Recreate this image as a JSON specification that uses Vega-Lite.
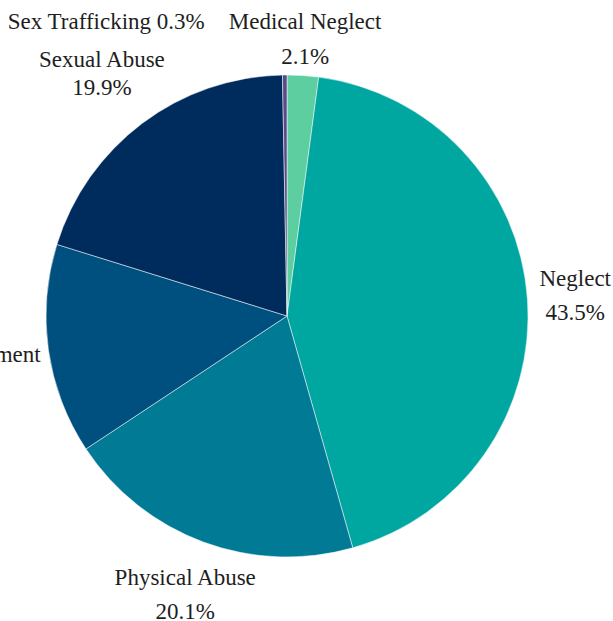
{
  "$schema": "https://vega.github.io/schema/vega-lite/v6.json",
  "autosize": "none",
  "padding": {"left": 0, "top": 11, "right": 39, "bottom": 0},
  "width": 574,
  "height": 610,
  "background": "white",
  "data": {
    "values": [
      {"category": "Medical Neglect", "pct": 2.1, "order": 1},
      {"category": "Neglect", "pct": 43.5, "order": 2},
      {"category": "Physical Abuse", "pct": 20.1, "order": 3},
      {"category": "Emotional Maltreatment", "pct": 14.1, "order": 4},
      {"category": "Sexual Abuse", "pct": 19.9, "order": 5},
      {"category": "Sex Trafficking", "pct": 0.3, "order": 6}
    ]
  },
  "transform": [
    {"stack": "pct", "groupby": [], "sort": [{"field": "order", "order": "ascending"}], "as": ["t0", "t1"]},
    {"calculate": "(datum.t0 + datum.t1) / 2", "as": "tmid"},
    {"calculate": "datum.category + '\\n' + format(datum.pct, '.1f') + '%'", "as": "label"}
  ],
  "layer": [
    {
      "mark": {"type": "arc", "outerRadius": 241, "stroke": "white", "strokeWidth": 0.5},
      "encoding": {
        "theta": {"field": "t0", "type": "quantitative", "scale": {"domain": [0, 100]}},
        "theta2": {"field": "t1"},
        "color": {
          "field": "category",
          "type": "nominal",
          "legend": null,
          "scale": {
            "domain": ["Medical Neglect", "Neglect", "Physical Abuse", "Emotional Maltreatment", "Sexual Abuse", "Sex Trafficking"],
            "range": ["#5ccea0", "#00a6a0", "#007a95", "#00507f", "#002b5d", "#5a4a8c"]
          }
        }
      }
    },
    {
      "transform": [{"filter": "datum.category == 'Medical Neglect'"}],
      "mark": {"type": "text", "radius": 290, "dx": -1, "dy": -5, "lineHeight": 35},
      "encoding": {
        "theta": {"field": "tmid", "type": "quantitative", "scale": {"domain": [0, 100]}},
        "text": {"field": "label"}
      }
    },
    {
      "transform": [{"filter": "datum.category == 'Neglect'"}],
      "mark": {"type": "text", "radius": 290, "dx": -1, "dy": -16, "lineHeight": 34},
      "encoding": {
        "theta": {"field": "tmid", "type": "quantitative", "scale": {"domain": [0, 100]}},
        "text": {"field": "label"}
      }
    },
    {
      "transform": [{"filter": "datum.category == 'Physical Abuse'"}],
      "mark": {"type": "text", "radius": 290, "dx": -1, "dy": -10, "lineHeight": 34},
      "encoding": {
        "theta": {"field": "tmid", "type": "quantitative", "scale": {"domain": [0, 100]}},
        "text": {"field": "label"}
      }
    },
    {
      "transform": [{"filter": "datum.category == 'Emotional Maltreatment'"}],
      "mark": {"type": "text", "radius": 290, "dx": -72, "dy": -2, "lineHeight": 34},
      "encoding": {
        "theta": {"field": "tmid", "type": "quantitative", "scale": {"domain": [0, 100]}},
        "text": {"field": "label"}
      }
    },
    {
      "transform": [{"filter": "datum.category == 'Sexual Abuse'"}],
      "mark": {"type": "text", "radius": 290, "dx": -11, "dy": -24, "lineHeight": 28},
      "encoding": {
        "theta": {"field": "tmid", "type": "quantitative", "scale": {"domain": [0, 100]}},
        "text": {"field": "label"}
      }
    },
    {
      "transform": [
        {"filter": "datum.category == 'Sex Trafficking'"},
        {"calculate": "datum.category + ' ' + format(datum.pct, '.1f') + '%'", "as": "label1"}
      ],
      "mark": {"type": "text", "radius": 290, "dx": -178, "dy": -4},
      "encoding": {
        "theta": {"field": "tmid", "type": "quantitative", "scale": {"domain": [0, 100]}},
        "text": {"field": "label1"}
      }
    }
  ],
  "config": {
    "view": {"stroke": null},
    "text": {"font": "Liberation Serif, DejaVu Serif, serif", "fontSize": 23, "lineBreak": "\n", "color": "#1e1e1e", "baseline": "middle"}
  }
}
